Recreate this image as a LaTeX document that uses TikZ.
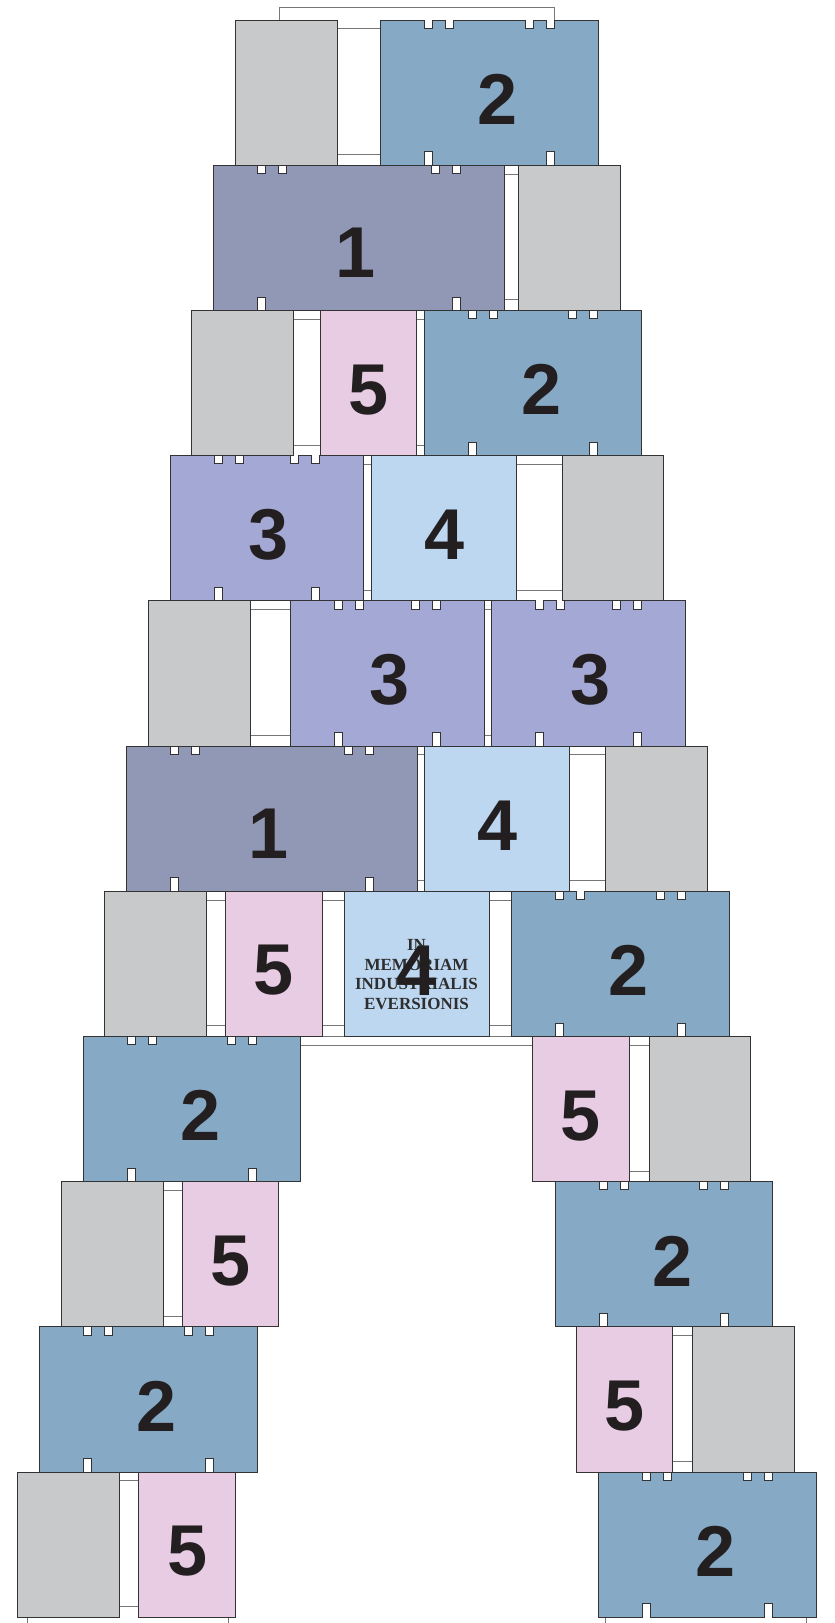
\documentclass[tikz,border=0pt]{standalone}
\usepackage{fontspec}
\newfontfamily\digitfont{Liberation Sans}
\newfontfamily\capfont{Liberation Serif}
\definecolor{cgray}{HTML}{C8C9CB}
\definecolor{ctwo}{HTML}{86A9C5}
\definecolor{cone}{HTML}{9098B5}
\definecolor{cthree}{HTML}{A3A8D4}
\definecolor{cfour}{HTML}{BDD7F0}
\definecolor{cfive}{HTML}{E8CCE4}
\definecolor{edge}{HTML}{333333}
\definecolor{barc}{HTML}{777777}
\definecolor{ink}{HTML}{231F20}
\definecolor{mottoc}{HTML}{2E2E2E}
\tikzset{
  blockline/.style={draw=edge, line width=1pt, line join=miter},
  barline/.style={draw=barc, line width=0.8pt, fill=white},
  digit/.style={inner sep=0pt, font=\digitfont\bfseries\fontsize{72}{72}\selectfont, text=ink},
  motto/.style={inner sep=0pt, align=center, font=\capfont\bfseries\fontsize{17}{19.4}\selectfont, text=mottoc},
}
\newcommand\nblk[4]{%
  \pgfmathsetmacro\Ta{#3}\pgfmathsetmacro\Tb{#3+8.3}%
  \pgfmathsetmacro\Bb{#3+145.2}\pgfmathsetmacro\Ba{#3+145.2-13.3}%
  \pgfmathsetmacro\xa{#1+44}\pgfmathsetmacro\xb{#1+52}%
  \pgfmathsetmacro\xc{#1+65}\pgfmathsetmacro\xd{#1+73}%
  \pgfmathsetmacro\xe{#2-73}\pgfmathsetmacro\xf{#2-65}%
  \pgfmathsetmacro\xg{#2-52}\pgfmathsetmacro\xh{#2-44}%
  \path[blockline, fill=#4] (#1,\Ta) -- (\xa,\Ta) -- (\xa,\Tb) -- (\xb,\Tb) -- (\xb,\Ta)
   -- (\xc,\Ta) -- (\xc,\Tb) -- (\xd,\Tb) -- (\xd,\Ta)
   -- (\xe,\Ta) -- (\xe,\Tb) -- (\xf,\Tb) -- (\xf,\Ta)
   -- (\xg,\Ta) -- (\xg,\Tb) -- (\xh,\Tb) -- (\xh,\Ta)
   -- (#2,\Ta) -- (#2,\Bb) -- (\xh,\Bb) -- (\xh,\Ba) -- (\xg,\Ba) -- (\xg,\Bb)
   -- (\xb,\Bb) -- (\xb,\Ba) -- (\xa,\Ba) -- (\xa,\Bb) -- (#1,\Bb) -- cycle;%
}
\newcommand\pblk[4]{\path[blockline, fill=#4] (#1,#3) rectangle (#2,{#3+145.2});}
\newcommand\gbar[3]{\path[barline] (#1,{#3+8.8}) rectangle (#2,{#3+134.6});}
\begin{document}
\begin{tikzpicture}[x=1pt,y=-1pt]
\useasboundingbox (0,0) rectangle (835,1623);
\fill[white] (0,0) rectangle (835,1623);
% plates
\path[barline] (279.3,20) |- (554.3,7) -- (554.3,20);
\draw[barc, line width=0.8pt] (27.7,1617.2) -- (27.7,1624) (228.3,1617.2) -- (228.3,1624);
\draw[barc, line width=0.8pt] (605.7,1617.2) -- (605.7,1624) (806,1617.2) -- (806,1624);
\draw[barc, line width=0.8pt] (300.7,1036.4) -- (532.5,1036.4) (300.7,1045.2) -- (532.5,1045.2);
% bars
\gbar{337}{380.7}{20}
\gbar{504.3}{518.7}{165.2}
\gbar{293.7}{320.3}{310.4}
\gbar{416.7}{424.3}{310.4}
\gbar{363.3}{371}{455.6}
\gbar{516}{562.3}{455.6}
\gbar{250.2}{290.6}{600.8}
\gbar{484.5}{491.8}{600.8}
\gbar{417.1}{424.5}{746}
\gbar{569.4}{605.3}{746}
\gbar{206.5}{225.7}{891.2}
\gbar{322.4}{344}{891.2}
\gbar{489}{511.4}{891.2}
\gbar{629}{649.3}{1036.4}
\gbar{163}{182.1}{1181.6}
\gbar{672.8}{692.9}{1326.8}
\gbar{119.3}{138.7}{1472}
% row 0
\pblk{235.7}{337}{20}{cgray}
\nblk{380.7}{598.3}{20}{ctwo}
% row 1
\nblk{213.3}{504.3}{165.2}{cone}
\pblk{518.7}{620.3}{165.2}{cgray}
% row 2
\pblk{191.7}{293.7}{310.4}{cgray}
\pblk{320.3}{416.7}{310.4}{cfive}
\nblk{424.3}{641.9}{310.4}{ctwo}
% row 3
\nblk{170.3}{363.3}{455.6}{cthree}
\pblk{371}{516}{455.6}{cfour}
\pblk{562.3}{663.7}{455.6}{cgray}
% row 4
\pblk{148.5}{250.2}{600.8}{cgray}
\nblk{290.6}{484.5}{600.8}{cthree}
\nblk{491.8}{685.5}{600.8}{cthree}
% row 5
\nblk{126.7}{417.1}{746}{cone}
\pblk{424.5}{569.4}{746}{cfour}
\pblk{605.3}{707.3}{746}{cgray}
% row 6
\pblk{104.9}{206.5}{891.2}{cgray}
\pblk{225.7}{322.4}{891.2}{cfive}
\pblk{344}{489}{891.2}{cfour}
\nblk{511.4}{729.1}{891.2}{ctwo}
% row 7
\nblk{83.1}{300.7}{1036.4}{ctwo}
\pblk{532.5}{629}{1036.4}{cfive}
\pblk{649.3}{750.9}{1036.4}{cgray}
% row 8
\pblk{61.3}{163}{1181.6}{cgray}
\pblk{182.1}{278.3}{1181.6}{cfive}
\nblk{555.1}{772.7}{1181.6}{ctwo}
% row 9
\nblk{39.5}{257.1}{1326.8}{ctwo}
\pblk{576.3}{672.8}{1326.8}{cfive}
\pblk{692.9}{794.5}{1326.8}{cgray}
% row 10
\pblk{17.7}{119.3}{1472}{cgray}
\pblk{138.7}{235.7}{1472}{cfive}
\nblk{598.7}{816.3}{1472}{ctwo}
% motto
\node[motto] (motto) at (416.5,974.5) {IN\\MEMORIAM\\INDUSTRIALIS\\EVERSIONIS};
% digits
\node[digit] (d0a) at (497.8,99.3) {2};
\node[digit] (d1a) at (355.3,252.9) {1};
\node[digit] (d2a) at (368.5,389.7) {5};
\node[digit] (d2b) at (541.4,389.7) {2};
\node[digit] (d3a) at (269,534.9) {3};
\node[digit] (d3b) at (444.5,534.9) {4};
\node[digit] (d4a) at (389.8,680.1) {3};
\node[digit] (d4b) at (590.8,680.1) {3};
\node[digit] (d5a) at (268.4,833.7) {1};
\node[digit] (d5b) at (498,825.3) {4};
\node[digit] (d6a) at (274,970.5) {5};
\node[digit] (d6b) at (416.5,970.5) {4};
\node[digit] (d6c) at (628.5,970.5) {2};
\node[digit] (d7a) at (200.2,1115.7) {2};
\node[digit] (d7b) at (580.8,1115.7) {5};
\node[digit] (d8a) at (230.2,1260.9) {5};
\node[digit] (d8b) at (672.2,1260.9) {2};
\node[digit] (d9a) at (156.6,1406.1) {2};
\node[digit] (d9b) at (624.5,1406.1) {5};
\node[digit] (d10a) at (187.2,1551.3) {5};
\node[digit] (d10b) at (715.8,1551.3) {2};
\end{tikzpicture}
\end{document}
